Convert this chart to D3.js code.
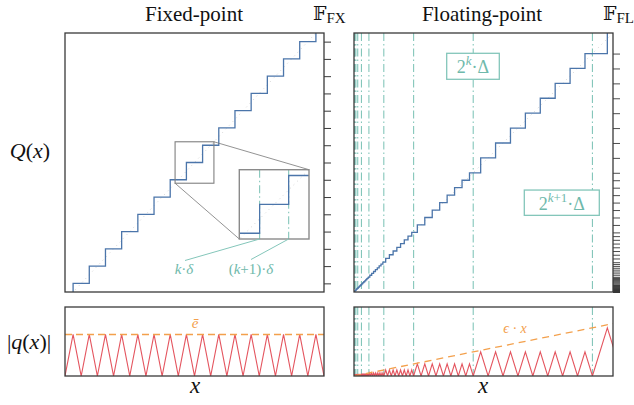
<!DOCTYPE html>
<html><head><meta charset="utf-8">
<script src="https://cdn.jsdelivr.net/npm/d3@7"></script>
<style>
html,body{margin:0;padding:0;background:#fff;}
svg text{font-family:"Liberation Serif","Times New Roman","DejaVu Serif",serif;}
</style></head>
<body><svg id="c" width="634" height="405" font-family="Liberation Serif, DejaVu Serif, serif"></svg>
<script>
// ---------- data ----------
const fxLevels = [0,1,2,3,4,5,6,7,8,9,10,11,12,13,14,15,16,17];   // fixed-point grid (delta = 1)
const flExponents = [-7,-6,-5,-4,-3,-2,-1,0,1,2,3];             // binades 2^e
const flMantissaSteps = [0,1,2,3,4,5,6,7];                       // 3-bit mantissa
const fxDomain = [0,16], fxRange = [0.5,15.5];
const flDomain = [0,8.69];
const fxErrMax = 0.83, flErrMax = 0.716;
const epsilon = 0.0625;
const insetDomain = [6.8,9.2];
const titles = ["Fixed-point","Floating-point"];

// ---------- build representable sets ----------
const flLevels = [0];
flExponents.forEach(e => flMantissaSteps.forEach(m => flLevels.push(Math.pow(2,e)*(1+m/8))));
flLevels.push(16);
flLevels.sort((a,b)=>a-b);

function stairPoints(levels, x0, x1){
  const pts=[[x0,levels[0]]];
  for(let i=0;i<levels.length-1;i++){
    const mid=(levels[i]+levels[i+1])/2;
    if(mid<x0) { pts[0]=[x0,levels[i+1]]; continue; }
    if(mid>x1) break;
    pts.push([mid,levels[i]]); pts.push([mid,levels[i+1]]);
  }
  pts.push([x1,pts[pts.length-1][1]]);
  return pts;
}
function errPoints(levels, x0, x1){
  const pts=[];
  for(let i=0;i<levels.length-1;i++){
    const a=levels[i], b=levels[i+1], mid=(a+b)/2;
    if(a>x1) break;
    pts.push([a,0]); pts.push([mid,(b-a)/2]);
  }
  const last=levels.findIndex(v=>v>x1);
  pts.push([levels[last],0]);
  return pts;
}

const svg=d3.select("#c");
const SERIF="Liberation Serif, DejaVu Serif, serif";
const teal="#84c6ba", tealText="#6fb9ab", blue="#4b75aa", red="#e4555f", orange="#f3a04c", frame="#3a3a3a";

// ---------- scales ----------
const L={x0:65,x1:324,y0:33,y1:292}, R={x0:354,x1:613,y0:33,y1:292};
const B={y0:307,y1:376};
const xL=d3.scaleLinear(fxDomain,[L.x0,L.x1]), yL=d3.scaleLinear(fxRange,[L.y1,L.y0]);
const xR=d3.scaleLinear(flDomain,[R.x0,R.x1]), yR=d3.scaleLinear(flDomain,[R.y1,R.y0]);
const yLb=d3.scaleLinear([0,fxErrMax],[B.y1,B.y0]), yRb=d3.scaleLinear([0,flErrMax],[B.y1,B.y0]);

const defs=svg.append("defs");
function clip(id,x,y,w,h){defs.append("clipPath").attr("id",id).append("rect").attr("x",x).attr("y",y).attr("width",w).attr("height",h);}
clip("cL",L.x0,L.y0,L.x1-L.x0,L.y1-L.y0);
clip("cR",R.x0,R.y0,R.x1-R.x0,R.y1-R.y0);
clip("cLb",L.x0,B.y0,L.x1-L.x0,B.y1-B.y0);
clip("cRb",R.x0,B.y0,R.x1-R.x0,B.y1-B.y0);

const line=(xs,ys)=>d3.line().x(d=>xs(d[0])).y(d=>ys(d[1]));
function txt(x,y,size,fill,anchor){
  return svg.append("text").attr("x",x).attr("y",y).attr("font-size",size).attr("fill",fill)
    .attr("text-anchor",anchor||"middle").attr("font-family",SERIF);
}

// ---------- left top ----------
const gL=svg.append("g").attr("clip-path","url(#cL)");
gL.append("path").attr("d",line(xL,yL)([[0,0],[16,16]])).attr("stroke","#c8c8c8").attr("stroke-width",0.8).attr("stroke-dasharray","1,4").attr("fill","none");
gL.append("path").attr("d",line(xL,yL)(stairPoints(fxLevels,0,16))).attr("stroke",blue).attr("stroke-width",1.3).attr("fill","none");
const axL=d3.axisRight(yL).tickValues(fxLevels.filter(v=>v>fxRange[0]&&v<fxRange[1])).tickSize(7).tickFormat("");
svg.append("g").attr("transform",`translate(${L.x1},0)`).call(axL).call(g=>{g.select(".domain").remove();g.selectAll("line").attr("stroke",frame).attr("stroke-width",1);});

// small box and inset
const sb={x0:xL(insetDomain[0]),x1:xL(insetDomain[1]),y0:yL(insetDomain[1]),y1:yL(insetDomain[0])};
const I={x0:239.3,x1:309,y0:169.7,y1:239};
const xi=d3.scaleLinear(insetDomain,[I.x0,I.x1]), yi=d3.scaleLinear(insetDomain,[I.y1,I.y0]);
svg.append("line").attr("x1",sb.x1).attr("y1",sb.y0).attr("x2",I.x1).attr("y2",I.y0).attr("stroke","#777").attr("stroke-width",0.8);
svg.append("line").attr("x1",sb.x0).attr("y1",sb.y1).attr("x2",I.x0).attr("y2",I.y1).attr("stroke","#777").attr("stroke-width",0.8);
svg.append("rect").attr("x",sb.x0).attr("y",sb.y0).attr("width",sb.x1-sb.x0).attr("height",sb.y1-sb.y0).attr("fill","none").attr("stroke","#808080").attr("stroke-width",1.1);
clip("cI",I.x0,I.y0,I.x1-I.x0,I.y1-I.y0);
svg.append("rect").attr("x",I.x0).attr("y",I.y0).attr("width",I.x1-I.x0).attr("height",I.y1-I.y0).attr("fill","#fff");
const gI=svg.append("g").attr("clip-path","url(#cI)");
gI.append("path").attr("d",line(xi,yi)([[0,0],[16,16]])).attr("stroke","#c8c8c8").attr("stroke-width",0.8).attr("stroke-dasharray","1,4").attr("fill","none");
const insetRisers=[7.5,8.5];
insetRisers.forEach(r=>gI.append("line").attr("x1",xi(r)).attr("x2",xi(r)).attr("y1",I.y0).attr("y2",I.y1).attr("stroke",teal).attr("stroke-width",1.1).attr("stroke-dasharray","8,3,1.5,3"));
gI.append("path").attr("d",line(xi,yi)(stairPoints(fxLevels,insetDomain[0],insetDomain[1]))).attr("stroke",blue).attr("stroke-width",1.3).attr("fill","none");
svg.append("rect").attr("x",I.x0).attr("y",I.y0).attr("width",I.x1-I.x0).attr("height",I.y1-I.y0).attr("fill","none").attr("stroke","#8a8a8a").attr("stroke-width",1.4);
const labels=[{r:7.5,x:185,y:260.5},{r:8.5,x:251,y:259.5}];
labels.forEach(l=>svg.append("line").attr("x1",xi(l.r)).attr("y1",I.y1).attr("x2",l.x).attr("y2",l.y).attr("stroke",teal).attr("stroke-width",1));
const t1=txt(184,274,15,tealText);
t1.append("tspan").attr("font-style","italic").text("k");t1.append("tspan").text("·");t1.append("tspan").attr("font-style","italic").text("δ");
const t2=txt(251,274,15,tealText);
t2.append("tspan").text("(");t2.append("tspan").attr("font-style","italic").text("k");t2.append("tspan").text("+1)·");t2.append("tspan").attr("font-style","italic").text("δ");

// ---------- right top ----------
const gR=svg.append("g").attr("clip-path","url(#cR)");
const binades=flExponents.map(e=>Math.pow(2,e));
function vlines(g,top,bot){
  binades.forEach(b=>g.append("line").attr("x1",xR(b)).attr("x2",xR(b)).attr("y1",top).attr("y2",bot).attr("stroke",teal).attr("stroke-width",1.1).attr("stroke-dasharray","8,3,1.5,3"));
}
vlines(gR,R.y0,R.y1);
gR.append("path").attr("d",line(xR,yR)([[0,0],[9,9]])).attr("stroke","#c8c8c8").attr("stroke-width",0.8).attr("stroke-dasharray","1,4").attr("fill","none");
gR.append("path").attr("d",line(xR,yR)(stairPoints(flLevels,0,flDomain[1]))).attr("stroke",blue).attr("stroke-width",1.3).attr("fill","none");
const axR=d3.axisRight(yR).tickValues(flLevels.filter(v=>v>0&&v<flDomain[1])).tickSize(7).tickFormat("");
svg.append("g").attr("transform",`translate(${R.x1},0)`).call(axR).call(g=>{g.select(".domain").remove();g.selectAll("line").attr("stroke",frame).attr("stroke-width",0.9);});

function boxLabel(cx,cy,w,h,sup){
  svg.append("rect").attr("x",cx-w/2).attr("y",cy-h/2).attr("width",w).attr("height",h).attr("fill","#fff").attr("stroke",teal).attr("stroke-width",1.3);
  const t=txt(cx,cy+7,18,tealText);
  t.append("tspan").text("2");
  t.append("tspan").attr("font-size",13).attr("dy",-8).attr("font-style","italic").text(sup[0]);
  if(sup.length>1) t.append("tspan").attr("font-size",13).text(sup.slice(1));
  t.append("tspan").attr("dy",8).text("·Δ");
}
boxLabel(473,66.3,52.6,26,"k");
boxLabel(561.8,202.7,75,25.3,"k+1");

// ---------- bottom panels ----------
const gLb=svg.append("g").attr("clip-path","url(#cLb)");
gLb.append("path").attr("d",line(xL,yLb)(errPoints(fxLevels,0,16))).attr("stroke",red).attr("stroke-width",1.1).attr("fill","none");
gLb.append("line").attr("x1",L.x0).attr("x2",L.x1).attr("y1",yLb(0.5)).attr("y2",yLb(0.5)).attr("stroke",orange).attr("stroke-width",1.4).attr("stroke-dasharray","7,4");
txt(195,328,15,orange).attr("font-style","italic").text("ē");

const gRb=svg.append("g").attr("clip-path","url(#cRb)");
vlines(gRb,B.y0,B.y1);
gRb.append("path").attr("d",line(xR,yRb)(errPoints(flLevels,0,flDomain[1]))).attr("stroke",red).attr("stroke-width",1.1).attr("fill","none");
gRb.append("path").attr("d",line(xR,yRb)([[0,0],[flDomain[1],epsilon*flDomain[1]]])).attr("stroke",orange).attr("stroke-width",1.3).attr("stroke-dasharray","7,5").attr("fill","none");
const te=txt(515,333,14,orange);
te.append("tspan").attr("font-style","italic").text("ϵ");te.append("tspan").text(" · ");te.append("tspan").attr("font-style","italic").text("x");

// ---------- frames ----------
[[L.x0,L.y0,L.x1,L.y1],[R.x0,R.y0,R.x1,R.y1],[L.x0,B.y0,L.x1,B.y1],[R.x0,B.y0,R.x1,B.y1]].forEach(f=>
  svg.append("rect").attr("x",f[0]).attr("y",f[1]).attr("width",f[2]-f[0]).attr("height",f[3]-f[1]).attr("fill","none").attr("stroke",frame).attr("stroke-width",1.3));

// ---------- titles & labels ----------
txt(194,21,21,"#111").text(titles[0]);
txt(482,21,21,"#111").text(titles[1]);
function setName(x,sub){
  const t=txt(x,20,21,"#111","start");
  t.append("tspan").attr("font-family","DejaVu Serif, DejaVu Sans").attr("font-size",19).text("𝔽");
  t.append("tspan").attr("font-size",15).attr("dy",3).text(sub);
}
setName(313,"FX"); setName(603,"FL");

const q=txt(30,158,22,"#111");
q.append("tspan").attr("font-style","italic").text("Q");q.append("tspan").text("(");q.append("tspan").attr("font-style","italic").text("x");q.append("tspan").text(")");
const qq=txt(29,349,22,"#111");
qq.append("tspan").text("|");qq.append("tspan").attr("font-style","italic").text("q");qq.append("tspan").text("(");qq.append("tspan").attr("font-style","italic").text("x");qq.append("tspan").text(")|");
txt(195,393,23,"#111").attr("font-style","italic").text("x");
txt(483,393,23,"#111").attr("font-style","italic").text("x");
</script></body></html>
